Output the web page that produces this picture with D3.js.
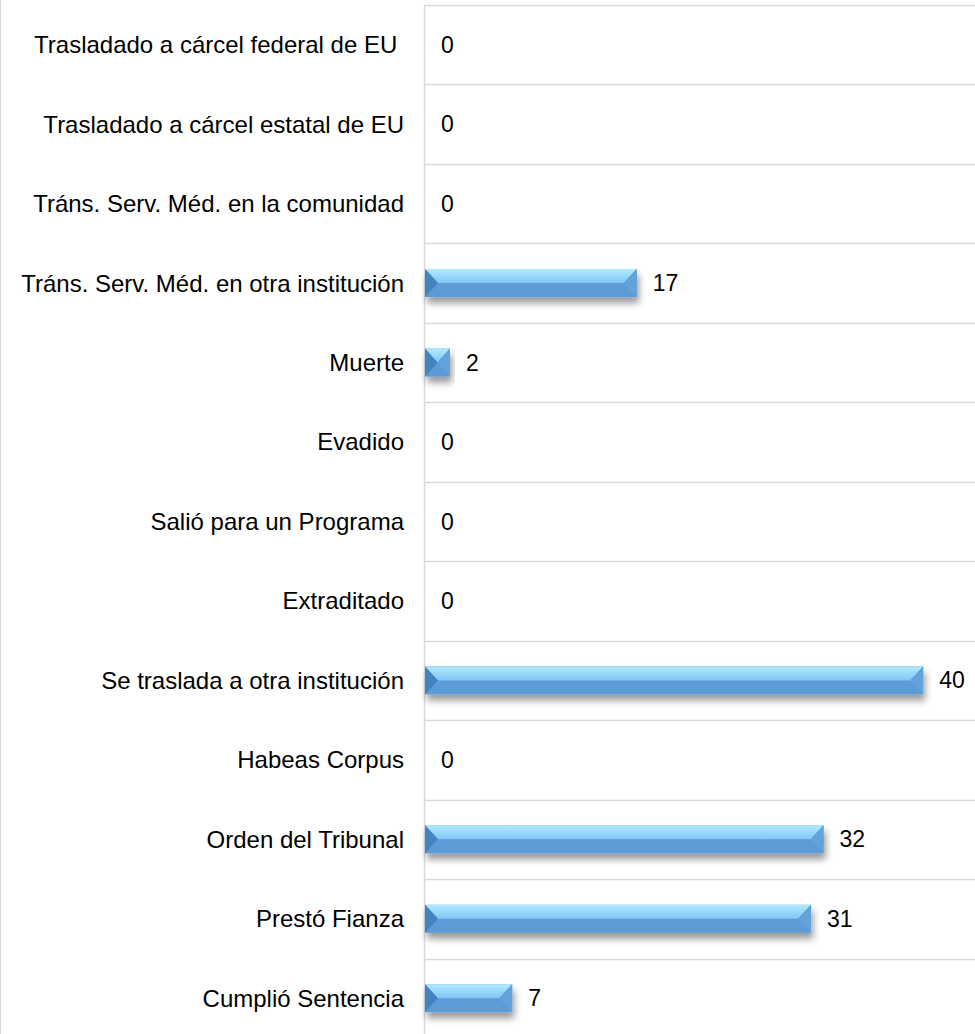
<!DOCTYPE html>
<html>
<head>
<meta charset="utf-8">
<script src="https://cdn.jsdelivr.net/npm/d3@7"></script>
<style>
  body { margin: 0; background: #fff; }
  svg { display: block; font-family: "Liberation Sans", Arial, sans-serif; }
</style>
</head>
<body>
<div id="chart"></div>
<script>
// categories top to bottom, as they appear in the chart
const categories = [
    "Trasladado a cárcel federal de EU ",
    "Trasladado a cárcel estatal de EU",
    "Tráns. Serv. Méd. en la comunidad",
    "Tráns. Serv. Méd. en otra institución",
    "Muerte",
    "Evadido",
    "Salió para un Programa",
    "Extraditado",
    "Se traslada a otra institución",
    "Habeas Corpus",
    "Orden del Tribunal",
    "Prestó Fianza",
    "Cumplió Sentencia"
]
const values = [0, 0, 0, 17, 2, 0, 0, 0, 40, 0, 32, 31, 7]
const xMax = 44

const width = 975
const height = 1034
const axisX = 424.5

const svg = d3.select("#chart").append("svg")
    .attr("width", width)
    .attr("height", height)

const defs = svg.append("defs")

const topGrad = defs.append("linearGradient")
    .attr("id", "top-face")
    .attr("x1", 0).attr("y1", 0).attr("x2", 0).attr("y2", 1)
topGrad.append("stop").attr("offset", "0%").attr("stop-color", "#b0eaff")
topGrad.append("stop").attr("offset", "100%").attr("stop-color", "#80c6f4")

const shadow = defs.append("filter")
    .attr("id", "bar-shadow")
    .attr("x", "-20%").attr("y", "-50%").attr("width", "140%").attr("height", "220%")
shadow.append("feDropShadow")
    .attr("dx", 2).attr("dy", 6)
    .attr("stdDeviation", 3.5)
    .attr("flood-color", "#000")
    .attr("flood-opacity", 0.4)

const x = d3.scaleLinear().domain([0, xMax]).range([axisX + 0.5, 973])
const y = d3.scaleBand().domain(categories).range([5, 1038]).paddingInner(0).paddingOuter(0)

// outer left border of the chart area
svg.append("line")
    .attr("x1", 0.5).attr("x2", 0.5)
    .attr("y1", 0).attr("y2", height)
    .attr("stroke", "#d9d9d9")

// horizontal gridlines at band edges
const edges = categories.map(c => y(c)).concat([y.range()[1]])
svg.selectAll("line.grid")
    .data(edges).enter().append("line")
    .attr("class", "grid")
    .attr("x1", axisX).attr("x2", width)
    .attr("y1", d => Math.round(d) + 0.5)
    .attr("y2", d => Math.round(d) + 0.5)
    .attr("stroke", "#d9d9d9")
    .attr("stroke-width", 1.5)

// category axis line
svg.append("line")
    .attr("x1", axisX).attr("x2", axisX)
    .attr("y1", 5).attr("y2", height)
    .attr("stroke", "#d9d9d9")
    .attr("stroke-width", 1.5)

// category labels
svg.selectAll("text.cat")
    .data(categories).enter().append("text")
    .attr("class", "cat")
    .attr("x", 404)
    .attr("y", d => y(d) + y.bandwidth() / 2)
    .attr("dy", "0.35em")
    .attr("text-anchor", "end")
    .attr("font-size", 24)
    .attr("fill", "#000")
    .style("white-space", "pre")
    .text(d => d)

// bevelled bars
const barH = 28
const data = categories.map((c, i) => ({cat: c, value: values[i]}))
const gbars = svg.selectAll("g.bar")
    .data(data.filter(d => d.value > 0)).enter().append("g")
    .attr("class", "bar")
    .attr("filter", "url(#bar-shadow)")

gbars.each(function (d) {
    const g = d3.select(this)
    const x0 = x(0), x1 = x(d.value)
    const y0 = y(d.cat) + y.bandwidth() / 2 - barH / 2
    const y1 = y0 + barH
    const ym = y0 + barH / 2
    const w = x1 - x0
    const b = Math.min(13, w / 2)
    const pts = p => p.map(q => q.join(",")).join(" ")

    g.append("rect")
        .attr("x", x0).attr("y", y0)
        .attr("width", w).attr("height", barH)
        .attr("fill", "#5b9bd5")
    // top face
    g.append("polygon")
        .attr("points", pts([[x0, y0], [x1, y0], [x1 - b, ym], [x0 + b, ym]]))
        .attr("fill", "url(#top-face)")
    // left face
    g.append("polygon")
        .attr("points", pts([[x0, y0], [x0 + b, ym], [x0, y1]]))
        .attr("fill", "#4383c2")
    // right face
    g.append("polygon")
        .attr("points", pts([[x1, y0], [x1 - b, ym], [x1, y1]]))
        .attr("fill", "#62a3dc")
})

// value labels
svg.selectAll("text.val")
    .data(data).enter().append("text")
    .attr("class", "val")
    .attr("x", d => x(d.value) + 16)
    .attr("y", d => y(d.cat) + y.bandwidth() / 2)
    .attr("dy", "0.35em")
    .attr("font-size", 23)
    .attr("fill", "#000")
    .text(d => d.value)
</script>
</body>
</html>
